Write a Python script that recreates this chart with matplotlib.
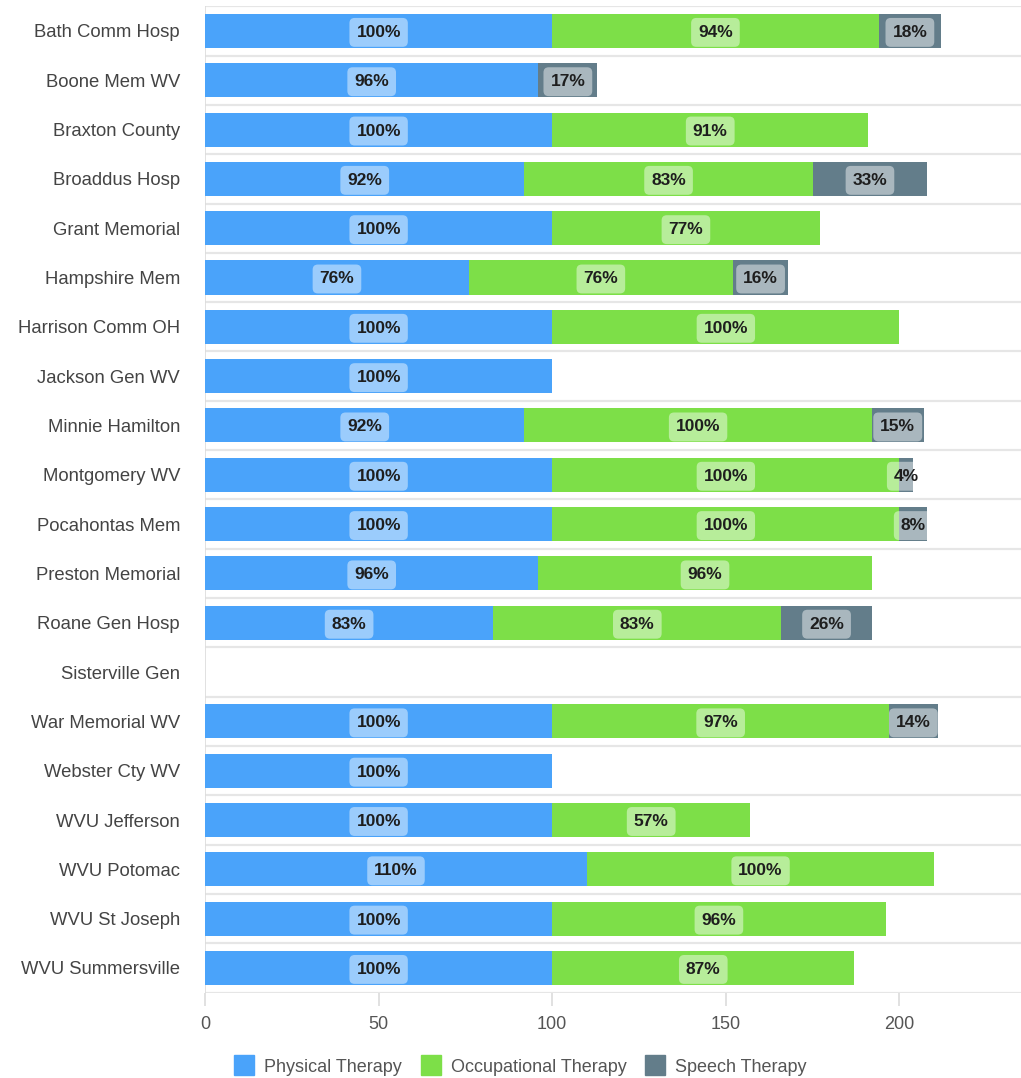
import numpy as np
import matplotlib
matplotlib.use("Agg")
import matplotlib.pyplot as plt
from matplotlib.lines import Line2D

hospitals = ["Bath Comm Hosp", "Boone Mem WV", "Braxton County", "Broaddus Hosp",
             "Grant Memorial", "Hampshire Mem", "Harrison Comm OH", "Jackson Gen WV",
             "Minnie Hamilton", "Montgomery WV", "Pocahontas Mem", "Preston Memorial",
             "Roane Gen Hosp", "Sisterville Gen", "War Memorial WV", "Webster Cty WV",
             "WVU Jefferson", "WVU Potomac", "WVU St Joseph", "WVU Summersville"]
physical = [100, 96, 100, 92, 100, 76, 100, 100, 92, 100, 100, 96, 83, 0, 100, 100, 100, 110, 100, 100]
occupational = [94, 0, 91, 83, 77, 76, 100, 0, 100, 100, 100, 96, 83, 0, 97, 0, 57, 100, 96, 87]
speech = [18, 17, 0, 33, 0, 16, 0, 0, 15, 4, 8, 0, 26, 0, 14, 0, 0, 0, 0, 0]

series = [("Physical Therapy", physical, "#4aa3fa"),
          ("Occupational Therapy", occupational, "#7ddf48"),
          ("Speech Therapy", speech, "#637d8a")]

plt.rcParams["font.family"] = ["Liberation Sans", "DejaVu Sans"]
fig = plt.figure(figsize=(10.21, 10.78), dpi=100)
ax = fig.add_axes([0.2008, 0.0792, 0.7992, 0.915])

n = len(hospitals)
y = np.arange(n)
left = np.zeros(n)
bh = 0.69
for name, vals, col in series:
    vals = np.array(vals, dtype=float)
    ax.barh(y, vals, left=left, height=bh, color=col, zorder=2)
    for yi, (l, v) in enumerate(zip(left, vals)):
        if v <= 0:
            continue
        ax.text(l + v / 2, yi + 0.03, f"{int(v)}%", ha="center", va="center",
                fontsize=12.5, fontweight="bold", color="#1e1e1e", zorder=4,
                bbox=dict(boxstyle="round,pad=0.4,rounding_size=0.3",
                          fc="white", ec="none", alpha=0.45))
    left += vals

ax.set_ylim(n - 0.5, -0.5)
ax.set_xlim(0, 235)
for b in np.arange(-0.5, n, 1.0):
    ax.axhline(b, color="#e6e6e6", lw=1.6, zorder=1)
ax.axvline(0, color="#dcdcdc", lw=1.2, zorder=1)

for s in ax.spines.values():
    s.set_visible(False)
ax.set_yticks(y)
ax.set_yticklabels(hospitals, fontsize=13.3, color="#444444")
ax.tick_params(axis="y", length=0, pad=18)
ax.set_xticks([0, 50, 100, 150, 200])
ax.tick_params(axis="x", length=9, color="#dcdcdc", width=1.2, labelsize=13,
               labelcolor="#555555", pad=8)

handles = [Line2D([0], [0], marker="s", linestyle="none", markersize=14,
                  markerfacecolor=c, markeredgecolor=c, label=nm)
           for nm, _, c in series]
fig.legend(handles=handles, loc="center", bbox_to_anchor=(0.506, 0.01),
           ncol=3, frameon=False, fontsize=13, handletextpad=0.1,
           columnspacing=0.6, labelcolor="#555555")

fig.savefig("out.png", dpi=100)
